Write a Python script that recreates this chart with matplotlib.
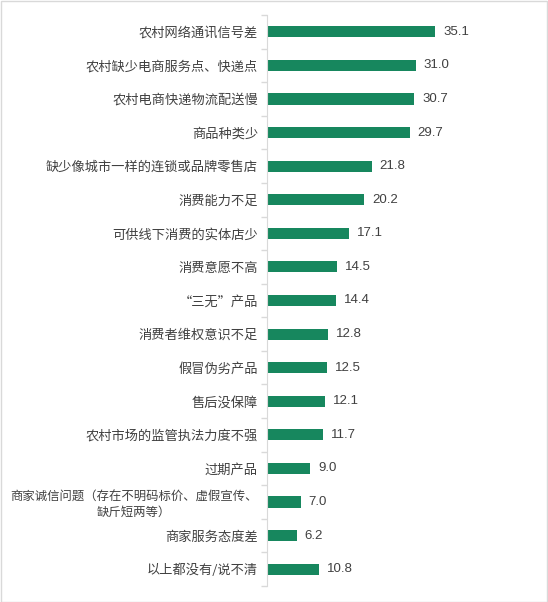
import matplotlib.pyplot as plt
from matplotlib.patches import Rectangle

plt.rcParams['font.family'] = ['Noto Sans CJK SC', 'DejaVu Sans']

# 类别与数值（从上到下）
categories = [
    "农村网络通讯信号差",
    "农村缺少电商服务点、快递点",
    "农村电商快递物流配送慢",
    "商品种类少",
    "缺少像城市一样的连锁或品牌零售店",
    "消费能力不足",
    "可供线下消费的实体店少",
    "消费意愿不高",
    "“三无”产品",
    "消费者维权意识不足",
    "假冒伪劣产品",
    "售后没保障",
    "农村市场的监管执法力度不强",
    "过期产品",
    "商家诚信问题（存在不明码标价、虚假宣传、\n缺斤短两等）",
    "商家服务态度差",
    "以上都没有/说不清",
]
values = [35.1, 31.0, 30.7, 29.7, 21.8, 20.2, 17.1, 14.5, 14.4, 12.8,
          12.5, 12.1, 11.7, 9.0, 7.0, 6.2, 10.8]

W, H = 548, 602
fig = plt.figure(figsize=(W / 100, H / 100), dpi=100)
ax = fig.add_axes([267 / W, 16 / H, (459 - 267) / W, (586 - 15) / H])

n = len(categories)
pos = list(range(n))
ax.barh(pos, values, height=0.33, color='#17875E')
ax.set_ylim(n - 0.5, -0.5)
ax.set_xlim(0, 40)

for p, v in zip(pos, values):
    ax.annotate(f"{v:.1f}", (v, p), xytext=(8, 0), textcoords='offset pixels',
                ha='left', va='center', fontsize=9.5, color='#404040',
                family=['Liberation Sans', 'DejaVu Sans'])

ax.set_yticks(pos)
ax.set_yticklabels(categories, fontsize=9.5, color='#404040', multialignment='center')
for lbl in ax.get_yticklabels():
    if '\n' in lbl.get_text():
        lbl.set_fontsize(8.9)
ax.tick_params(axis='y', which='major', length=0, pad=6.5)
ax.set_yticks([i - 0.5 for i in range(n + 1)], minor=True)
ax.tick_params(axis='y', which='minor', length=4, color='#d9d9d9', width=1)
ax.set_xticks([])

for s in ['top', 'right', 'bottom']:
    ax.spines[s].set_visible(False)
ax.spines['left'].set_color('#d9d9d9')

# 外边框
fig.patches.append(Rectangle((0.5 / W, 0.5 / H), 1 - 1.5 / W, 1 - 1.5 / H,
                             transform=fig.transFigure, fill=False,
                             edgecolor='#d9d9d9', linewidth=1))

fig.savefig('out.png', dpi=100)
